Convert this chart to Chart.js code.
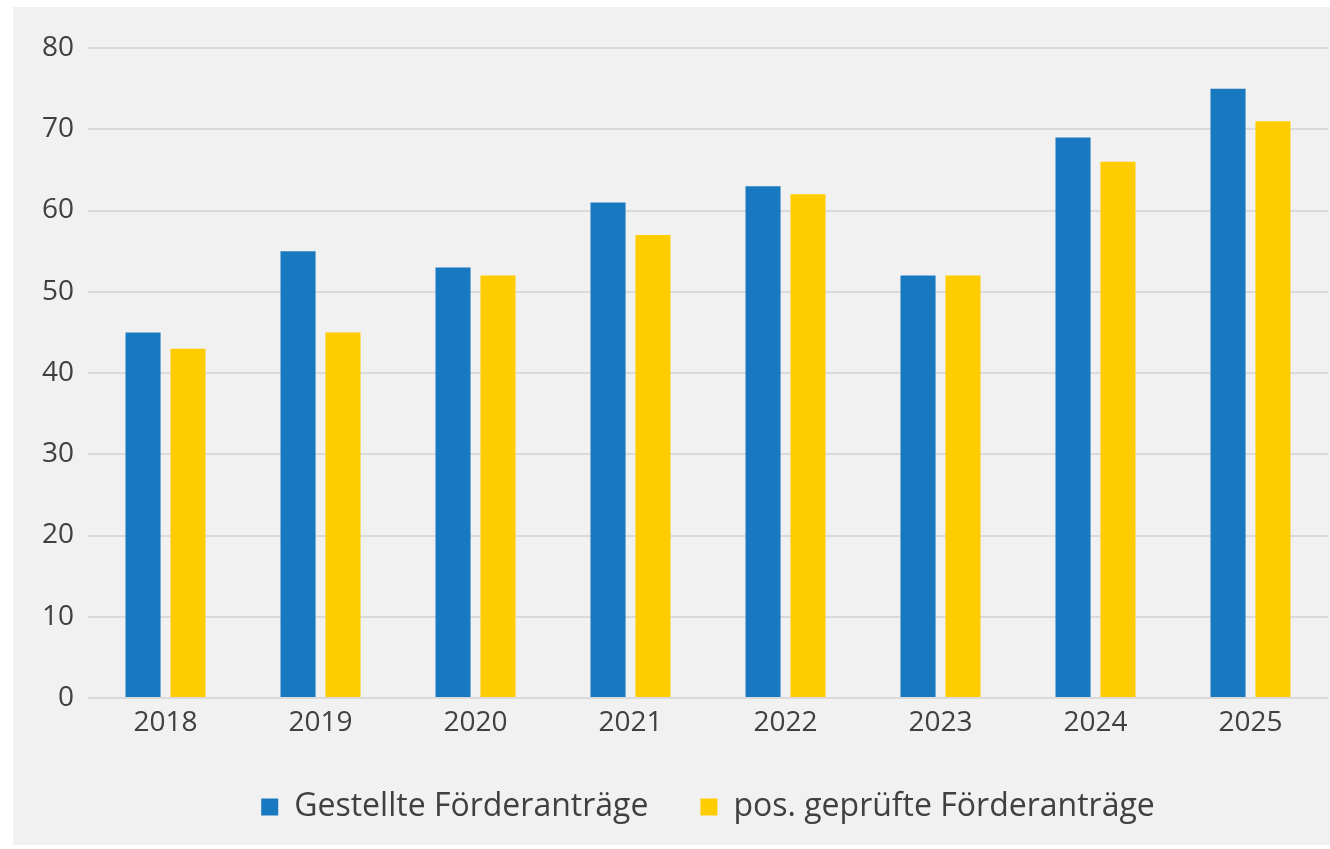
<!DOCTYPE html>
<html>
<head>
<meta charset="utf-8">
<script src="https://cdn.jsdelivr.net/npm/chart.js@4"></script>
<style>
  html, body { margin: 0; padding: 0; background: #fff; }
  #panel {
    position: absolute; left: 13px; top: 7px;
    width: 1317px; height: 838px; background: #f1f1f1;
    overflow: hidden;
  }
</style>
</head>
<body>
<div id="panel"><canvas id="foerderBar" width="1317" height="838"></canvas></div>
<script>
const years = ["2018", "2019", "2020", "2021", "2022", "2023", "2024", "2025"];
const gestellt = [45, 55, 53, 61, 63, 52, 69, 75];
const geprueft = [43, 45, 52, 57, 62, 52, 66, 71];
const yTicks = [0, 10, 20, 30, 40, 50, 60, 70, 80];

const textColor = "#404040";
const fontFamily = "'Open Sans', 'Noto Sans', sans-serif";

const ctx = document.getElementById("foerderBar").getContext("2d");
const foerderChart = new Chart(ctx, {
  type: "bar",
  data: {
    labels: years,
    datasets: [
      {
        label: "Gestellte Förderanträge",
        data: gestellt,
        backgroundColor: "#1878c0",
      },
      {
        label: "pos. geprüfte Förderanträge",
        data: geprueft,
        backgroundColor: "#ffcc00",
      },
    ],
  },
  options: {
    responsive: false,
    animation: false,
    devicePixelRatio: 1,
    layout: {
      padding: { top: 41, right: 2, left: 0, bottom: 12 },
    },
    datasets: {
      bar: {
        categoryPercentage: 0.58,
        barPercentage: 0.78,
      },
    },
    scales: {
      y: {
        min: 0,
        max: 80,
        afterBuildTicks: (axis) => {
          axis.ticks = yTicks.map((v) => ({ value: v }));
        },
        afterFit: (axis) => {
          axis.width = 75;
        },
        border: { display: false },
        grid: { color: "#dadada", lineWidth: 2, drawTicks: false },
        ticks: {
          padding: 14,
          color: textColor,
          font: { family: fontFamily, size: 28 },
        },
      },
      x: {
        border: { display: false },
        grid: { display: false, drawTicks: false },
        afterFit: (axis) => {
          axis.height = 41;
        },
        ticks: {
          padding: 8,
          color: textColor,
          font: { family: fontFamily, size: 28 },
        },
      },
    },
    plugins: {
      legend: {
        display: true,
        position: "bottom",
        fullSize: false,
        labels: {
          boxWidth: 17,
          boxHeight: 17,
          padding: 52,
          color: textColor,
          font: { family: fontFamily, size: 32 },
        },
      },
      tooltip: { enabled: false },
    },
  },
});
</script>
</body>
</html>
